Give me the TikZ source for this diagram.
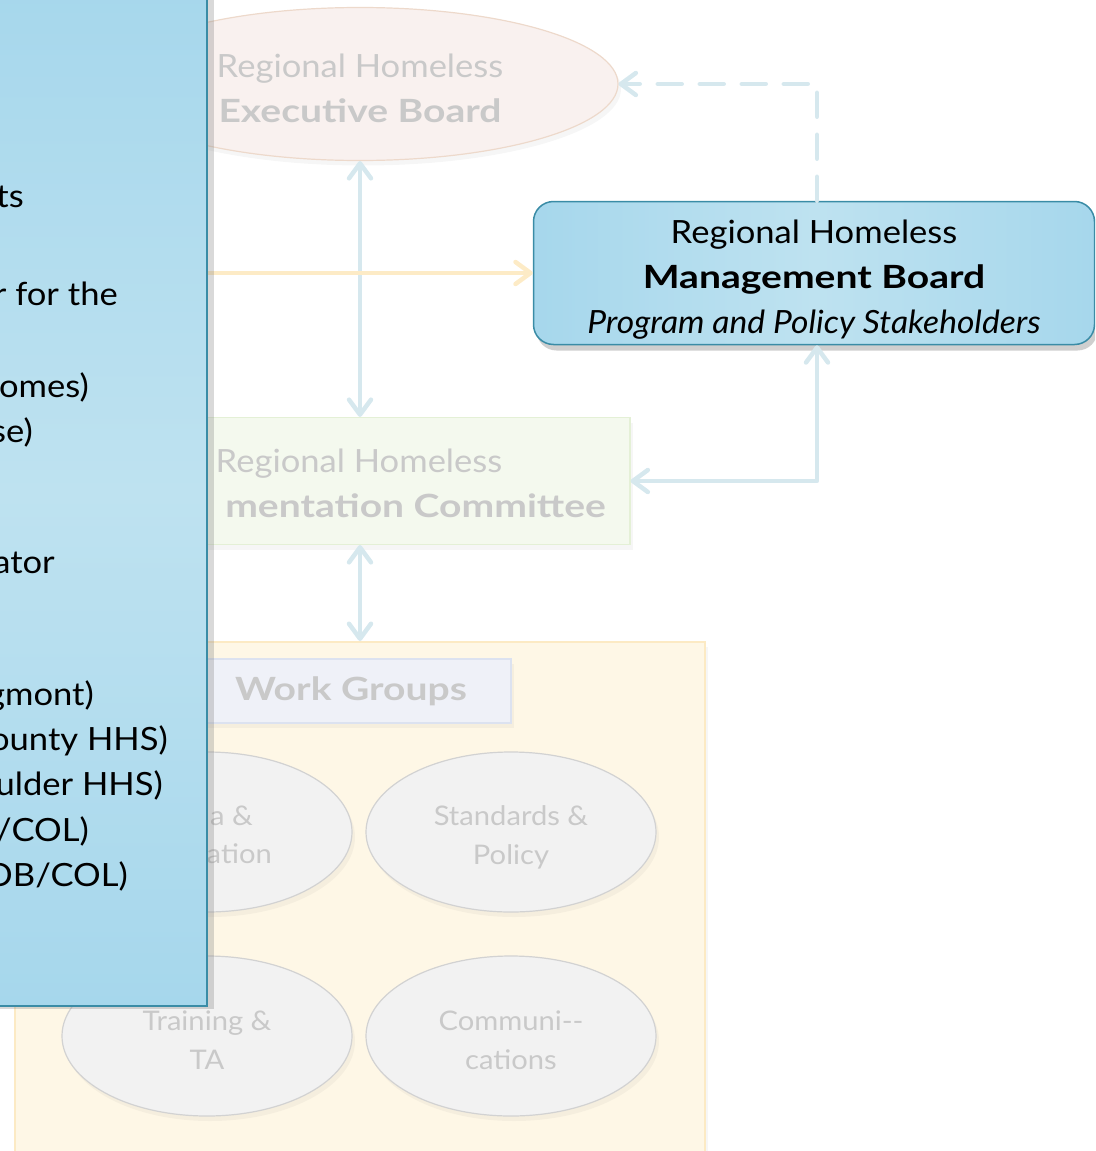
\documentclass[tikz,border=0pt]{standalone}
\usepackage{fontspec}
\setmainfont{Lato}[
  UprightFeatures={FakeStretch=1.08},
  BoldFeatures={FakeStretch=1.22},
  ItalicFeatures={FakeStretch=1.05}]
\usetikzlibrary{arrows.meta,shapes.geometric,shadows,positioning}

\definecolor{panelblue}{HTML}{A6D7EC}
\definecolor{panellight}{HTML}{BEE2F0}
\definecolor{paneledge}{HTML}{3A8CA6}
\definecolor{linkblue}{HTML}{D6E8EE}
\definecolor{linkyellow}{HTML}{FDEBC6}
\definecolor{fadetext}{HTML}{C9C9C9}
\definecolor{execfill}{HTML}{F9F1EF}
\definecolor{execedge}{HTML}{EDD9CB}
\definecolor{implfill}{HTML}{F4F9EE}
\definecolor{impledge}{HTML}{E4F0D6}
\definecolor{wgfill}{HTML}{FEF7E6}
\definecolor{wgedge}{HTML}{FCEAC4}
\definecolor{labelfill}{HTML}{EFF1F8}
\definecolor{labeledge}{HTML}{DCE2F0}
\definecolor{groupfill}{HTML}{F2F2F2}
\definecolor{groupedge}{HTML}{D2D2D2}

\newcommand{\toppad}[1]{\rule{0pt}{#1}}

\tikzset{
  bigfont/.style={font=\fontsize{32}{45}\selectfont},
  smallfont/.style={font=\fontsize{27}{39}\selectfont},
  faint shadow/.style={drop shadow={shadow xshift=3pt,shadow yshift=-5pt,opacity=.07}},
  link/.style={draw=linkblue,line width=4.5pt,line cap=round,line join=round},
  tip/.tip={Straight Barb[length=15pt,width=22pt,round]},
  execshape/.style={ellipse,draw=execedge,fill=execfill,line width=1.2pt,faint shadow,
    minimum width=516pt,minimum height=153pt,text=fadetext,bigfont,align=center,inner sep=0pt},
  implbox/.style={rectangle,draw=impledge,fill=implfill,line width=1.2pt,faint shadow,
    minimum width=540pt,minimum height=127pt},
  mgmtbox/.style={rectangle,rounded corners=20pt,draw=paneledge,line width=1.5pt,
    left color=panelblue,right color=panelblue,middle color=panellight,
    drop shadow={shadow xshift=3pt,shadow yshift=-6pt,opacity=.38},
    minimum width=561pt,minimum height=143pt,bigfont,align=center},
  wgbox/.style={rectangle,draw=wgedge,fill=wgfill,line width=1.5pt,faint shadow},
  labelbox/.style={rectangle,draw=labeledge,fill=labelfill,line width=1.2pt,faint shadow,
    text=fadetext,bigfont},
  groupshape/.style={ellipse,draw=groupedge,fill=groupfill,line width=1.2pt,faint shadow,
    minimum width=290pt,minimum height=160pt,text=fadetext,smallfont,align=center},
  grouptext/.style={text=fadetext,smallfont,inner sep=0pt},
  fadetextnode/.style={text=fadetext,bigfont,inner sep=0pt},
  paneltext/.style={bigfont,inner sep=0pt}
}

\begin{document}
\begin{tikzpicture}[x=1pt,y=-1pt]
  \clip (0,0) rectangle (1095,1151);

  % work groups
  \node[wgbox,minimum width=690pt,minimum height=530pt,anchor=north west] (wg) at (14,641) {};
  \node[labelbox,minimum width=320pt,minimum height=64pt] (wglabel) at (351,691) {\textbf{Work Groups}};
  \node[groupshape] (data) at (207,832) {};
  \node[grouptext,anchor=base east] (datatop) at (253,825) {a \&};
  \node[grouptext,anchor=base east] (databot) at (272,863) {ation};
  \node[groupshape] (std) at (511,832) {\toppad{30pt}Standards \&\\Policy};
  \node[groupshape] (train) at (207,1036) {\toppad{28pt}Training \&\\TA};
  \node[groupshape] (comm) at (511,1036) {\toppad{28pt}Communi-{}-\\cations};

  % committees and boards
  \node[execshape] (exec) at (360,84) {\toppad{32pt}Regional Homeless\\\textbf{Executive Board}};
  \node[implbox] (impl) at (360,481) {};
  \node[fadetextnode,anchor=base] (impltop) at (359,472) {Regional Homeless};
  \node[fadetextnode,anchor=base east] (implbot) at (606,517) {\textbf{mentation Committee}};

  \coordinate (ystart) at (120,273);
  \node[mgmtbox] (mgmt) at (814,273)
    {\toppad{36pt}Regional Homeless\\\textbf{Management Board}\\\textit{Program and Policy Stakeholders}};

  % links
  \draw[link,{tip}-{tip}] (exec.south) -- (impl.north);
  \draw[link,{tip}-{tip}] (impl.south) -- (impl.south |- wg.north);
  \draw[link,dash pattern=on 24pt off 18pt,-{tip}] ([xshift=3pt]mgmt.north) |- (exec.east);
  \draw[link,{tip}-{tip}] ([xshift=3pt]mgmt.south) |- (impl.east);
  \draw[link,draw=linkyellow,-{tip}] (ystart) -- (mgmt.west);

  % side panel
  \shade[top color=panelblue,bottom color=panelblue,middle color=panellight,
    drop shadow={shadow xshift=7pt,shadow yshift=-3pt,opacity=.3}]
    (-20,-20) rectangle (207,1006);
  \draw[paneledge,line width=1.8pt] (207,-20) -- (207,1006) -- (-20,1006);
  \foreach \yy/\xx/\txt [count=\i] in {207/24/ts, 305/118/r for the, 397/89/omes),
      442/33/se), 573/55/ator, 705/94/gmont), 750/168/ounty HHS), 795/163/ulder HHS),
      841/89/{/COL)}, 886/128/{OB/COL)}}
    \node[paneltext,anchor=base east] (line\i) at (\xx,\yy) {\txt};
\end{tikzpicture}
\end{document}
